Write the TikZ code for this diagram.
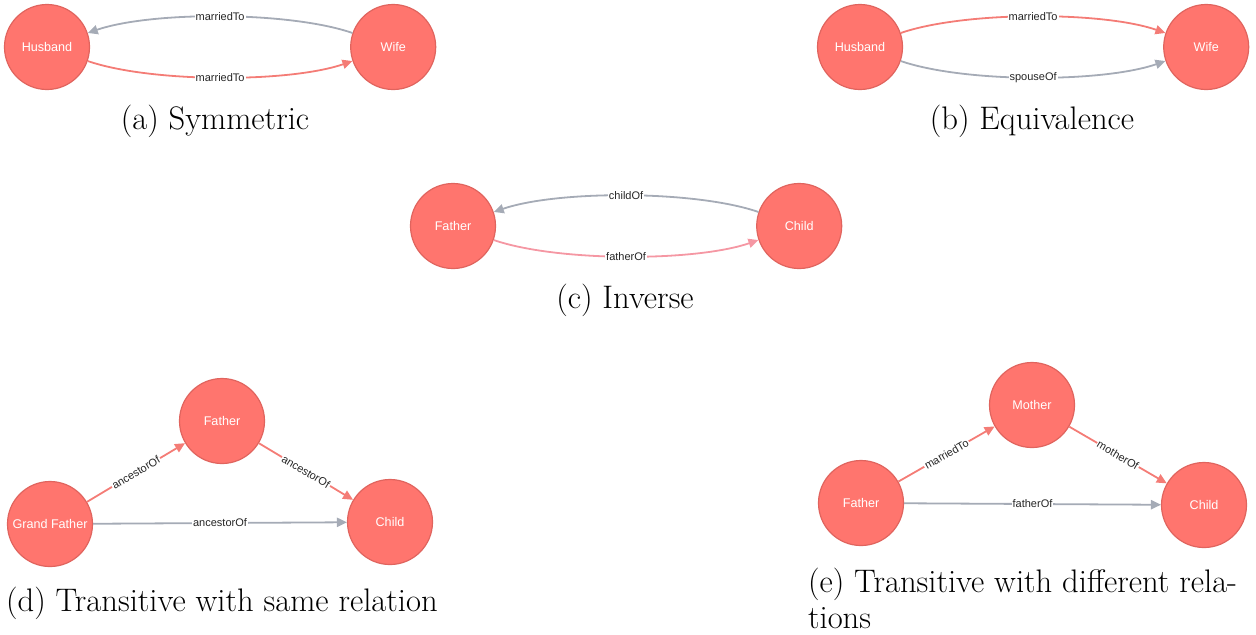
\documentclass[tikz,border=0pt]{standalone}
\usepackage{fontspec}
\newfontfamily\graphfont{Liberation Sans}
\usetikzlibrary{arrows.meta,positioning}

\definecolor{nodered}{HTML}{FF756E}
\definecolor{noderim}{HTML}{E0645E}
\definecolor{relred}{HTML}{F47C76}
\definecolor{relpink}{HTML}{F597A3}
\definecolor{relgrey}{HTML}{A5ABB6}

\begin{document}
\begin{tikzpicture}[
    x=0.5pt, y=-0.5pt,
    node distance=130pt,
    entity/.style={
      circle, draw=noderim, line width=0.6pt, fill=nodered,
      minimum size=42.5pt, inner sep=0pt, text=white,
      font=\graphfont\fontsize{6.3}{7.5}\selectfont
    },
    rel/.style={-{Triangle[length=5pt,width=4.6pt]}, line width=0.9pt},
    tag/.style={fill=white, inner sep=0.5pt, text=black!85,
      font=\graphfont\fontsize{5.5}{6.5}\selectfont},
    caption/.style={font=\fontsize{16.3}{18}\selectfont, align=left}
  ]
    \useasboundingbox (0,0) rectangle (1256,634);

    % (a) symmetric
    \node[entity] (husbandA) at (47,47) {Husband};
    \node[entity, right=of husbandA] (wifeA) {Wife};
    \draw[rel, relgrey] (wifeA) to[bend right=19, looseness=0.65]
      node[tag] {marriedTo} (husbandA);
    \draw[rel, relred] (husbandA) to[bend right=19, looseness=0.65]
      node[tag] {marriedTo} (wifeA);
    \node[caption] (capA) at (215,121) {(a) Symmetric};

    % (b) equivalence
    \node[entity] (husbandB) at (860,47) {Husband};
    \node[entity, right=of husbandB] (wifeB) {Wife};
    \draw[rel, relred] (husbandB) to[bend left=19, looseness=0.65]
      node[tag] {marriedTo} (wifeB);
    \draw[rel, relgrey] (husbandB) to[bend right=19, looseness=0.65]
      node[tag] {spouseOf} (wifeB);
    \node[caption] (capB) at (1032,121) {(b) Equivalence};

    % (c) inverse
    \node[entity] (fatherC) at (453,226) {Father};
    \node[entity, right=of fatherC] (childC) {Child};
    \draw[rel, relgrey] (childC) to[bend right=19, looseness=0.65]
      node[tag] {childOf} (fatherC);
    \draw[rel, relpink] (fatherC) to[bend right=19, looseness=0.65]
      node[tag] {fatherOf} (childC);
    \node[caption] (capC) at (625,300) {(c) Inverse};

    % (d) transitive, same relation
    \node[entity] (grandD) at (50,524) {Grand Father};
    \node[entity] (fatherD) at (222,421) {Father};
    \node[entity] (childD) at (390,522) {Child};
    \draw[rel, relred] (grandD) -- node[tag, sloped] {ancestorOf} (fatherD);
    \draw[rel, relred] (fatherD) -- node[tag, sloped] {ancestorOf} (childD);
    \draw[rel, relgrey] (grandD) -- node[tag] {ancestorOf} (childD);
    \node[caption, anchor=west] (capD) at (-1,603) {(d) Transitive with same relation};

    % (e) transitive, different relations
    \node[entity] (fatherE) at (861,503) {Father};
    \node[entity] (motherE) at (1032,405) {Mother};
    \node[entity] (childE) at (1204,505) {Child};
    \draw[rel, relred] (fatherE) -- node[tag, sloped] {marriedTo} (motherE);
    \draw[rel, relred] (motherE) -- node[tag, sloped] {motherOf} (childE);
    \draw[rel, relgrey] (fatherE) -- node[tag] {fatherOf} (childE);
    \node[caption, anchor=west] (capE) at (801,598) {(e) Transitive with different rela-\\tions};
  \end{tikzpicture}
\end{document}
